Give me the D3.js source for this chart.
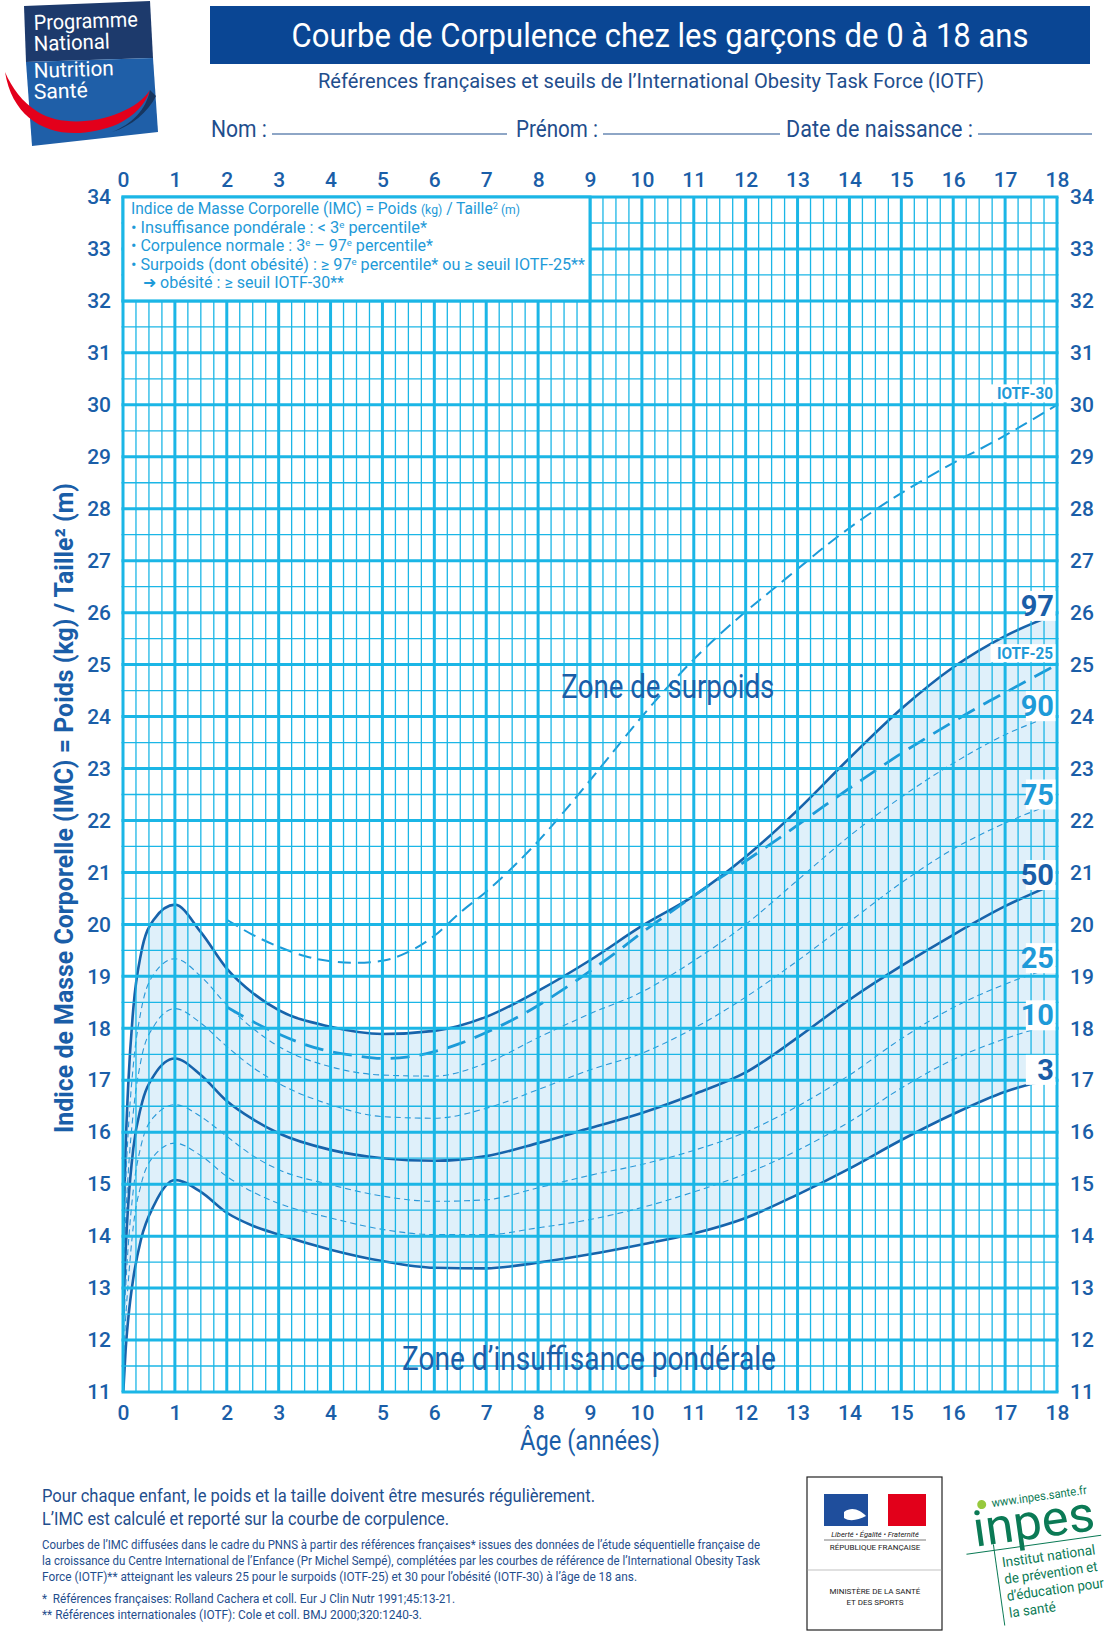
<!DOCTYPE html>
<html>
<head>
<meta charset="utf-8">
<script src="https://cdn.jsdelivr.net/npm/d3@7"></script>
<style>
  body { margin: 0; background: #fff; }
  svg { display: block; }
  text { font-family: "Liberation Sans Narrow", Roboto, "Liberation Sans", sans-serif; }
</style>
</head>
<body>
<svg id="chart" width="1116" height="1638"></svg>
<script>
var ages = [0, 0.05, 0.1, 0.2, 0.35, 0.6, 1, 1.5, 2, 2.5, 3, 4, 5, 6, 7, 8, 9, 10, 11, 12, 13, 14, 15, 16, 17, 18];
var p97 = [13.8, 15.7, 16.9, 18.4, 19.45, 20.1, 20.38, 19.85, 19.15, 18.68, 18.35, 18.03, 17.89, 17.95, 18.22, 18.72, 19.31, 19.97, 20.55, 21.3, 22.2, 23.2, 24.15, 24.95, 25.55, 25.98];
var p90 = [13.4, 15.0, 16.0, 17.3, 18.35, 19.05, 19.34, 19.0, 18.45, 18.0, 17.65, 17.26, 17.1, 17.08, 17.33, 17.82, 18.28, 18.7, 19.3, 20.0, 20.85, 21.7, 22.45, 23.1, 23.65, 24.05];
var p75 = [12.9, 14.3, 15.2, 16.4, 17.4, 18.05, 18.38, 18.1, 17.65, 17.25, 16.94, 16.53, 16.3, 16.27, 16.46, 16.82, 17.2, 17.52, 18.0, 18.6, 19.3, 20.05, 20.8, 21.45, 21.95, 22.35];
var p50 = [12.4, 13.7, 14.6, 15.7, 16.5, 17.1, 17.42, 17.1, 16.6, 16.25, 15.98, 15.66, 15.5, 15.45, 15.54, 15.79, 16.08, 16.37, 16.73, 17.15, 17.82, 18.55, 19.2, 19.8, 20.35, 20.8];
var p25 = [11.9, 13.0, 13.8, 14.9, 15.75, 16.3, 16.53, 16.3, 15.92, 15.55, 15.28, 14.99, 14.77, 14.67, 14.7, 14.93, 15.17, 15.38, 15.65, 16.0, 16.5, 17.1, 17.8, 18.4, 18.85, 19.2];
var p10 = [11.4, 12.4, 13.1, 14.2, 15.0, 15.55, 15.79, 15.55, 15.15, 14.85, 14.63, 14.35, 14.13, 14.03, 14.03, 14.16, 14.32, 14.55, 14.85, 15.2, 15.65, 16.2, 16.85, 17.4, 17.8, 18.1];
var p3  = [10.9, 11.8, 12.4, 13.2, 13.95, 14.6, 15.08, 14.85, 14.45, 14.2, 14.03, 13.74, 13.52, 13.39, 13.38, 13.49, 13.65, 13.84, 14.05, 14.35, 14.8, 15.3, 15.85, 16.35, 16.78, 17.05];

// IOTF cut-offs, every half year from 2 to 18
var iotfAges = [2, 2.5, 3, 3.5, 4, 4.5, 5, 5.5, 6, 6.5, 7, 7.5, 8, 8.5, 9, 9.5, 10, 10.5, 11, 11.5, 12, 12.5, 13, 13.5, 14, 14.5, 15, 15.5, 16, 16.5, 17, 17.5, 18];
var iotf25 = [18.41, 18.13, 17.89, 17.69, 17.55, 17.47, 17.42, 17.45, 17.55, 17.71, 17.92, 18.16, 18.44, 18.76, 19.10, 19.46, 19.84, 20.20, 20.55, 20.89, 21.22, 21.56, 21.91, 22.27, 22.62, 22.96, 23.29, 23.60, 23.90, 24.19, 24.46, 24.73, 25.00];
var iotf30 = [20.09, 19.80, 19.57, 19.39, 19.29, 19.26, 19.30, 19.47, 19.78, 20.23, 20.63, 21.09, 21.60, 22.17, 22.77, 23.39, 24.00, 24.57, 25.10, 25.58, 26.02, 26.43, 26.84, 27.25, 27.63, 27.98, 28.30, 28.60, 28.88, 29.14, 29.41, 29.70, 30.00];

var xTicks = [0, 1, 2, 3, 4, 5, 6, 7, 8, 9, 10, 11, 12, 13, 14, 15, 16, 17, 18];
var yTicks = [11, 12, 13, 14, 15, 16, 17, 18, 19, 20, 21, 22, 23, 24, 25, 26, 27, 28, 29, 30, 31, 32, 33, 34];

var GRID = '#1bb6e6', DARK = '#1a5ea8', LIGHT = '#1e9ad8', NAVY = '#1f4e8d';

var svg = d3.select('#chart');
var x = d3.scaleLinear().domain([0, 18]).range([123, 1057]);
var y = d3.scaleLinear().domain([11, 34]).range([1392, 197]);

var percentiles = [
    {key: '97', values: p97, solid: true},
    {key: '90', values: p90, solid: false},
    {key: '75', values: p75, solid: false},
    {key: '50', values: p50, solid: true},
    {key: '25', values: p25, solid: false},
    {key: '10', values: p10, solid: false},
    {key: '3', values: p3, solid: true}
];

svg.append('defs').append('clipPath').attr('id', 'plot')
    .append('rect')
    .attr('x', x(0)).attr('y', y(34))
    .attr('width', x(18) - x(0)).attr('height', y(11) - y(34));

// ---- header ----
drawLogo();
svg.append('rect').attr('x', 210).attr('y', 6).attr('width', 880).attr('height', 58).attr('fill', '#0a4694');
svg.append('text').attr('x', 660).attr('y', 47).attr('text-anchor', 'middle')
    .attr('font-size', 33).attr('fill', '#fff')
    .attr('textLength', 737).attr('lengthAdjust', 'spacingAndGlyphs')
    .text('Courbe de Corpulence chez les garçons de 0 à 18 ans');
svg.append('text').attr('x', 651).attr('y', 88).attr('text-anchor', 'middle')
    .attr('font-size', 21).attr('fill', NAVY)
    .attr('textLength', 666).attr('lengthAdjust', 'spacingAndGlyphs')
    .text('Références françaises et seuils de l\u2019International Obesity Task Force (IOTF)');

var fields = [
    {label: 'Nom :', x: 211, w: 56, line: [272, 507]},
    {label: 'Prénom :', x: 516, w: 82, line: [603, 780]},
    {label: 'Date de naissance :', x: 786, w: 187, line: [978, 1092]}
];
fields.forEach(function(f) {
    svg.append('text').attr('x', f.x).attr('y', 137)
        .attr('font-size', 23).attr('fill', NAVY)
        .attr('textLength', f.w).attr('lengthAdjust', 'spacingAndGlyphs')
        .text(f.label);
    svg.append('line').attr('x1', f.line[0]).attr('x2', f.line[1])
        .attr('y1', 134).attr('y2', 134)
        .attr('stroke', NAVY).attr('stroke-width', 1.2);
});

// ---- plot ----
var plot = svg.append('g');
var clipped = plot.append('g').attr('clip-path', 'url(#plot)');

var band = d3.area()
    .x(function(d, i) { return x(ages[i]); })
    .y0(function(d, i) { return y(p3[i]); })
    .y1(function(d, i) { return y(p97[i]); })
    .curve(d3.curveMonotoneX);
clipped.append('path').datum(ages).attr('d', band).attr('fill', '#dff0fa');

// grid: quarter years / half units, heavier every whole unit
var grid = plot.append('g');
d3.range(0, 18.01, 0.25).forEach(function(a) {
    var major = Math.abs(a - Math.round(a)) < 1e-6;
    grid.append('line')
        .attr('x1', x(a)).attr('x2', x(a)).attr('y1', y(11)).attr('y2', y(34))
        .attr('stroke', GRID).attr('stroke-width', major ? 3 : 1.3);
});
d3.range(11, 34.01, 0.5).forEach(function(b) {
    var major = Math.abs(b - Math.round(b)) < 1e-6;
    grid.append('line')
        .attr('x1', x(0) - 1.5).attr('x2', x(18) + 1.5).attr('y1', y(b)).attr('y2', y(b))
        .attr('stroke', GRID).attr('stroke-width', major ? 3 : 1.3);
});

var curve = d3.line()
    .x(function(d) { return x(d[0]); })
    .y(function(d) { return y(d[1]); })
    .curve(d3.curveMonotoneX);

percentiles.forEach(function(p) {
    var pts = ages.map(function(a, i) { return [a, p.values[i]]; });
    clipped.append('path').datum(pts).attr('d', curve)
        .attr('fill', 'none')
        .attr('stroke', p.solid ? '#1763ab' : '#2a98d8')
        .attr('stroke-width', p.solid ? 2.6 : 1.1)
        .attr('stroke-dasharray', p.solid ? null : '6,4');
});

var iotf = [
    {key: 'IOTF-25', values: iotf25, width: 2.8, dash: '19,10'},
    {key: 'IOTF-30', values: iotf30, width: 2, dash: '13,7'}
];
iotf.forEach(function(s) {
    var pts = iotfAges.map(function(a, i) { return [a, s.values[i]]; });
    clipped.append('path').datum(pts).attr('d', curve)
        .attr('fill', 'none').attr('stroke', '#1c9ad8')
        .attr('stroke-width', s.width).attr('stroke-dasharray', s.dash);
});

// axes
function styleAxis(g) {
    g.select('.domain').remove();
    g.selectAll('text').attr('font-size', 21).attr('fill', DARK)
        .attr('font-family', 'Roboto, "Liberation Sans", sans-serif').attr('font-weight', 500);
}
plot.append('g').attr('transform', 'translate(0,' + y(34) + ')')
    .call(d3.axisTop(x).tickValues(xTicks).tickSize(0).tickPadding(10).tickFormat(d3.format('d')))
    .call(styleAxis);
plot.append('g').attr('transform', 'translate(0,' + y(11) + ')')
    .call(d3.axisBottom(x).tickValues(xTicks).tickSize(0).tickPadding(13).tickFormat(d3.format('d')))
    .call(styleAxis);
plot.append('g').attr('transform', 'translate(' + (x(0) - 12) + ',0)')
    .call(d3.axisLeft(y).tickValues(yTicks).tickSize(0).tickPadding(0).tickFormat(d3.format('d')))
    .call(styleAxis);
plot.append('g').attr('transform', 'translate(' + (x(18) + 13) + ',0)')
    .call(d3.axisRight(y).tickValues(yTicks).tickSize(0).tickPadding(0).tickFormat(d3.format('d')))
    .call(styleAxis);

// end-of-curve labels
var endX = x(17.4);
percentiles.forEach(function(p) {
    var cy = y(p.values[p.values.length - 1] + 0.15);
    plot.append('rect').attr('x', endX).attr('y', cy - 15)
        .attr('width', x(18) - 1.5 - endX).attr('height', 30).attr('fill', '#fff');
    plot.append('text').attr('x', x(18) - 3).attr('y', cy + 10)
        .attr('text-anchor', 'end').attr('font-size', 29).attr('font-weight', 'bold')
        .attr('font-family', 'Roboto, "Liberation Sans", sans-serif')
        .attr('fill', p.solid ? DARK : LIGHT)
        .text(p.key);
});
iotf.forEach(function(s) {
    var cy = y(s.values[s.values.length - 1] + 0.22);
    plot.append('rect').attr('x', x(16.72)).attr('y', cy - 9)
        .attr('width', x(18) - 1.5 - x(16.72)).attr('height', 18).attr('fill', '#fff');
    plot.append('text').attr('x', x(18) - 4).attr('y', cy + 6)
        .attr('text-anchor', 'end').attr('font-size', 16).attr('font-weight', 'bold')
        .attr('fill', LIGHT)
        .attr('textLength', 56).attr('lengthAdjust', 'spacingAndGlyphs')
        .text(s.key);
});

// zone labels
plot.append('text').attr('x', x(10.5)).attr('y', y(24.36)).attr('text-anchor', 'middle')
    .attr('font-size', 33).attr('fill', DARK)
    .attr('textLength', 213).attr('lengthAdjust', 'spacingAndGlyphs')
    .text('Zone de surpoids');
plot.append('text').attr('x', x(8.98)).attr('y', y(11.43)).attr('text-anchor', 'middle')
    .attr('font-size', 33).attr('fill', DARK)
    .attr('textLength', 374).attr('lengthAdjust', 'spacingAndGlyphs')
    .text('Zone d\u2019insuffisance pondérale');

// legend box in the top-left corner of the grid
plot.append('rect').attr('x', x(0)).attr('y', y(34))
    .attr('width', x(9) - x(0)).attr('height', y(32) - y(34))
    .attr('fill', '#fff').attr('stroke', GRID).attr('stroke-width', 3);

var legendLines = [
    [['Indice de Masse Corporelle (IMC) = Poids '], ['(kg)', 'small'], [' / Taille'], ['2', 'sup'], [' (m)', 'small']],
    [['\u2022 Insuffisance pondérale : < 3'], ['e', 'sup'], [' percentile*']],
    [['\u2022 Corpulence normale : 3'], ['e', 'sup'], [' \u2013 97'], ['e', 'sup'], [' percentile*']],
    [['\u2022 Surpoids (dont obésité) : \u2265 97'], ['e', 'sup'], [' percentile* ou \u2265 seuil IOTF-25**']],
    [['\u279C obésité : \u2265 seuil IOTF-30**']]
];
var legendY = [214, 233, 251, 270, 288];
var legendX = [131, 131, 131, 131, 143];
var legendW = [389, 296, 302, 454, 201];
legendLines.forEach(function(parts, i) {
    var t = plot.append('text').attr('x', legendX[i]).attr('y', legendY[i])
        .attr('font-size', 16).attr('fill', LIGHT).attr('xml:space', 'preserve')
        .attr('textLength', legendW[i]).attr('lengthAdjust', 'spacingAndGlyphs');
    var raised = false;
    parts.forEach(function(part) {
        var ts = t.append('tspan').text(part[0]);
        if (part[1] === 'sup') {
            ts.attr('font-size', 9.5).attr('dy', -5);
            raised = true;
            return;
        }
        if (raised) {
            ts.attr('dy', 5);
            raised = false;
        }
        if (part[1] === 'small') {
            ts.attr('font-size', 12.5);
        }
    });
});

// axis titles
svg.append('text').attr('transform', 'translate(73,808) rotate(-90)')
    .attr('text-anchor', 'middle').attr('font-size', 26).attr('font-weight', 'bold').attr('fill', DARK)
    .attr('textLength', 650).attr('lengthAdjust', 'spacingAndGlyphs')
    .text('Indice de Masse Corporelle (IMC) = Poids (kg) / Taille\u00b2 (m)');
svg.append('text').attr('x', 590).attr('y', 1450).attr('text-anchor', 'middle')
    .attr('font-size', 28).attr('fill', DARK)
    .attr('textLength', 140).attr('lengthAdjust', 'spacingAndGlyphs')
    .text('Âge (années)');

// ---- footer ----
var footer = [
    {t: 'Pour chaque enfant, le poids et la taille doivent être mesurés régulièrement.', y: 1502, s: 19, w: 553},
    {t: 'L\u2019IMC est calculé et reporté sur la courbe de corpulence.', y: 1525, s: 19, w: 407},
    {t: 'Courbes de l\u2019IMC diffusées dans le cadre du PNNS à partir des références françaises* issues des données de l\u2019étude séquentielle française de', y: 1549, s: 12, w: 718},
    {t: 'la croissance du Centre International de l\u2019Enfance (Pr Michel Sempé), complétées par les courbes de référence de l\u2019International Obesity Task', y: 1565, s: 12, w: 718},
    {t: 'Force (IOTF)** atteignant les valeurs 25 pour le surpoids (IOTF-25) et 30 pour l\u2019obésité (IOTF-30) à l\u2019âge de 18 ans.', y: 1581, s: 12, w: 595},
    {t: '*  Références françaises: Rolland Cachera et coll. Eur J Clin Nutr 1991;45:13-21.', y: 1603, s: 12, w: 413},
    {t: '** Références internationales (IOTF): Cole et coll. BMJ 2000;320:1240-3.', y: 1619, s: 12, w: 380}
];
footer.forEach(function(f) {
    svg.append('text').attr('x', 42).attr('y', f.y)
        .attr('font-size', f.s).attr('fill', NAVY).attr('xml:space', 'preserve')
        .attr('textLength', f.w).attr('lengthAdjust', 'spacingAndGlyphs')
        .text(f.t);
});

drawRepublique();
drawInpes();

function drawLogo() {
    var g = svg.append('g');
    g.append('path').attr('d', 'M24,6 L150,1 L153,58 L26,62 Z').attr('fill', '#1d3a6c');
    g.append('path').attr('d', 'M26,62 L153,58 L158,132 L32,146 Z').attr('fill', '#1f5fa8');
    g.append('path').attr('d', 'M5,72 C14,128 64,146 118,124 C134,116 146,104 150,90 C132,118 70,132 38,112 C22,102 12,88 5,72 Z')
        .attr('fill', '#e3001b');
    g.append('path').attr('d', 'M150,90 C146,110 132,124 112,132 C132,126 148,112 156,96 Z').attr('fill', '#17365f');
    [['Programme', 30, 104], ['National', 51, 76], ['Nutrition', 78, 80], ['Santé', 99, 54]].forEach(function(d) {
        g.append('text').attr('x', 34).attr('y', d[1]).attr('font-size', 21).attr('fill', '#fff')
            .attr('textLength', d[2]).attr('lengthAdjust', 'spacingAndGlyphs')
            .attr('transform', 'rotate(-2,34,' + d[1] + ')')
            .text(d[0]);
    });
}

function drawRepublique() {
    var g = svg.append('g');
    var serif = '"Liberation Serif", "DejaVu Serif", serif';
    g.append('rect').attr('x', 807).attr('y', 1477).attr('width', 135).attr('height', 153)
        .attr('fill', '#fff').attr('stroke', '#222').attr('stroke-width', 1.2);
    g.append('rect').attr('x', 824).attr('y', 1494).attr('width', 44).attr('height', 32).attr('fill', '#1f4e9c');
    g.append('rect').attr('x', 888).attr('y', 1494).attr('width', 38).attr('height', 32).attr('fill', '#e2001a');
    g.append('path').attr('d', 'M844,1512 C852,1506 860,1510 866,1516 C858,1520 850,1522 844,1518 Z').attr('fill', '#fff');
    g.append('text').attr('x', 875).attr('y', 1537).attr('text-anchor', 'middle')
        .attr('font-family', serif).attr('font-style', 'italic')
        .attr('font-size', 7.5).attr('fill', '#222').text('Liberté • Égalité • Fraternité');
    g.append('line').attr('x1', 824).attr('x2', 926).attr('y1', 1540).attr('y2', 1540).attr('stroke', '#222').attr('stroke-width', 0.6);
    g.append('text').attr('x', 875).attr('y', 1550).attr('text-anchor', 'middle')
        .attr('font-family', serif)
        .attr('font-size', 8).attr('fill', '#222').text('RÉPUBLIQUE FRANÇAISE');
    g.append('line').attr('x1', 807).attr('x2', 942).attr('y1', 1570).attr('y2', 1570).attr('stroke', '#999').attr('stroke-width', 0.6);
    g.append('text').attr('x', 875).attr('y', 1594).attr('text-anchor', 'middle')
        .attr('font-family', serif)
        .attr('font-size', 8).attr('fill', '#222').text('MINISTÈRE DE LA SANTÉ');
    g.append('text').attr('x', 875).attr('y', 1605).attr('text-anchor', 'middle')
        .attr('font-family', serif)
        .attr('font-size', 8).attr('fill', '#222').text('ET DES SPORTS');
}

function drawInpes() {
    var green = '#0b7a55';
    var g = svg.append('g').attr('transform', 'rotate(-8,1040,1560)');
    g.append('circle').attr('cx', 990).attr('cy', 1497).attr('r', 4.5).attr('fill', '#97c93d');
    g.append('text').attr('x', 1000).attr('y', 1501).attr('font-size', 12).attr('fill', green)
        .attr('textLength', 96).attr('lengthAdjust', 'spacingAndGlyphs').text('www.inpes.sante.fr');
    g.append('text').attr('x', 978).attr('y', 1538).attr('font-size', 50).attr('fill', green)
        .attr('textLength', 122).attr('lengthAdjust', 'spacingAndGlyphs').text('inpes');
    g.append('line').attr('x1', 968).attr('x2', 1104).attr('y1', 1544).attr('y2', 1544).attr('stroke', green).attr('stroke-width', 1);
    g.append('line').attr('x1', 996).attr('x2', 996).attr('y1', 1538).attr('y2', 1620).attr('stroke', green).attr('stroke-width', 1);
    [['Institut national', 1562, 94], ['de prévention et', 1579, 94], ['d\u2019éducation pour', 1596, 98], ['la santé', 1613, 47]].forEach(function(d) {
        g.append('text').attr('x', 1002).attr('y', d[1]).attr('font-size', 14).attr('fill', green)
            .attr('textLength', d[2]).attr('lengthAdjust', 'spacingAndGlyphs').text(d[0]);
    });
}
</script>
</body>
</html>
